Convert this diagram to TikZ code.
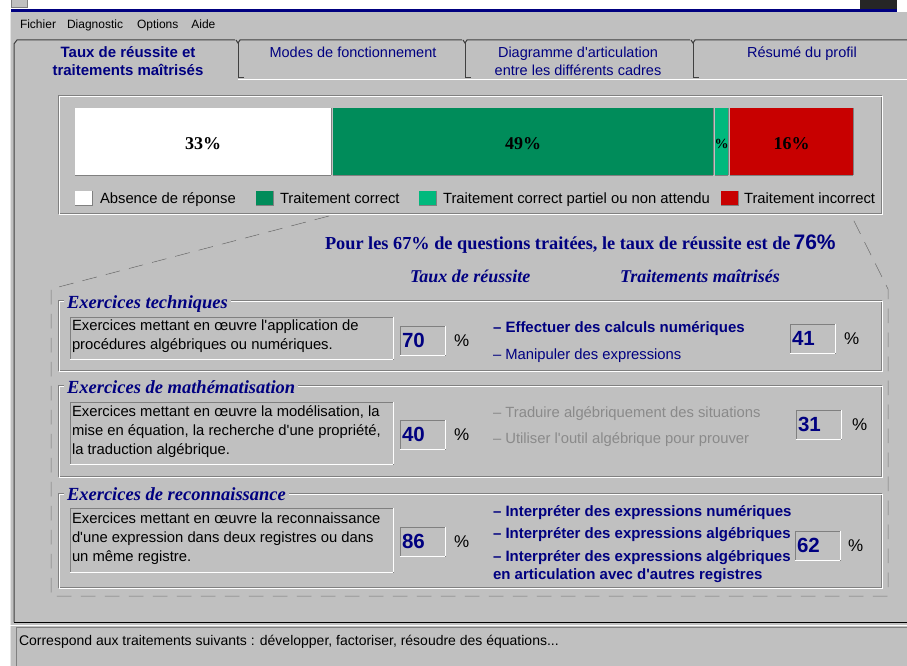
\documentclass[tikz,border=0pt]{standalone}
\usepackage{fontspec}
\setmainfont{Liberation Serif}
\setsansfont{Liberation Sans}[Ligatures=TeXOff]
\usetikzlibrary{positioning,calc}
\tikzset{
  every picture/.append style={line width=1pt},
  every node/.append style={inner sep=0pt, outer sep=0pt},
}
\tikzset{
  uitext/.style={anchor=west, text height=10.6pt, text depth=0pt, font=\sffamily\fontsize{14.8}{19}\selectfont},
  menuitem/.style={anchor=west, text height=8.6pt, text depth=0pt, font=\sffamily\fontsize{12}{14}\selectfont},
  tablabel/.style={align=center, text=winnavy, font=\sffamily\fontsize{14.5}{18}\selectfont},
  tabsingle/.style={tablabel, text height=10.4pt, text depth=0pt},
  barlabel/.style={text height=12.2pt, text depth=0pt, yshift=-2pt, font=\rmfamily\bfseries\fontsize{18}{20}\selectfont},
  raised/.style={append after command={
      (\tikzlastnode.north east) edge[draw=windark] (\tikzlastnode.south east)
      (\tikzlastnode.south west) edge[draw=windark] (\tikzlastnode.south east)}},
  sunken/.style={draw=windark, append after command={
      (\tikzlastnode.south west) edge[draw=white] (\tikzlastnode.south east)
      (\tikzlastnode.south east) edge[draw=white] (\tikzlastnode.north east)}},
  etched/.style={draw=windark, anchor=north west, append after command={
      ([shift={(1pt,-1pt)}]\tikzlastnode.north west) edge[draw=white, to path={rectangle (\tikztotarget)}] ([shift={(1pt,-1pt)}]\tikzlastnode.south east)}},
  segment/.style={raised, anchor=north west, minimum height=67pt},
  legendsq/.style={raised, anchor=west, minimum width=17pt, minimum height=15pt},
  grouptitle/.style={anchor=west, fill=wingray, inner xsep=3pt, text height=12.2pt, text depth=0pt, text=winnavy, font=\rmfamily\bfseries\itshape\fontsize{18.5}{20}\selectfont},
  colhead/.style={anchor=west, text height=11.9pt, text depth=0pt, text=winnavy, font=\rmfamily\bfseries\itshape\fontsize{18}{20}\selectfont},
  descbox/.style={sunken, anchor=north west, minimum width=323pt},
  desctext/.style={anchor=west, align=left, font=\sffamily\fontsize{14.8}{18.7}\selectfont},
  valbox/.style={sunken, anchor=north west, minimum width=45pt, minimum height=29pt, text width=41pt, inner xsep=2pt, align=left, text height=14.7pt, text depth=0pt, text=winnavy, font=\sffamily\bfseries\fontsize{20.5}{22}\selectfont},
  pct/.style={anchor=west, text height=12.2pt, text depth=0pt, font=\sffamily\fontsize{17}{20}\selectfont},
  skill/.style={uitext, text=winnavy},
  skillbold/.style={skill, text height=10.7pt, font=\sffamily\bfseries\fontsize{15}{19}\selectfont},
  skillwrap/.style={anchor=west, align=left, text=winnavy, font=\sffamily\bfseries\fontsize{15}{18}\selectfont},
  skilloff/.style={uitext, text=wintextoff},
  zoomline/.style={draw=windark, dash pattern=on 15pt off 9pt},
  zoomlight/.style={draw=white, dash pattern=on 15pt off 9pt, shift={(1pt,-1pt)}},
}

\begin{document}
\begin{tikzpicture}[x=1pt, y=-1pt]
% Color definitions
\definecolor{wingray}{RGB}{192,192,192}
\definecolor{windark}{RGB}{128,128,128}
\definecolor{winnavy}{RGB}{0,0,128}
\definecolor{wintextoff}{RGB}{138,138,138}
\definecolor{okgreen}{RGB}{0,140,90}
\definecolor{partteal}{RGB}{0,185,125}
\definecolor{badred}{RGB}{200,0,0}

\useasboundingbox (0,0) rectangle (907,666);

% Window frame
\fill[white] (0,0) rectangle (907,666);
\fill[wingray] (10,12) rectangle (907,666);
\draw[windark, fill=wingray] (11,-1) rectangle (27,8);
\fill[black!85] (860,0) rectangle (897,9);
\fill[winnavy] (11,9) rectangle (897,12);
\draw[black!10] (10.5,12) -- (10.5,666);

% Menu bar
\node[menuitem] (mfile) at (20,24) {Fichier};
\node[menuitem, right=11pt of mfile] (mdiag) {Diagnostic};
\node[menuitem, right=14pt of mdiag] (mopt) {Options};
\node[menuitem, right=13pt of mopt] (maide) {Aide};

% Tabs
\draw[black!75] (14,622) -- (14,44) -- (17,40) -- (235,40);
\draw[black!75] (236,40) -- (238,43) -- (240,40) -- (462,40);
\draw[black!75] (463,40) -- (465,43) -- (467,40) -- (690,40);
\draw[black!75] (691,40) -- (693,43) -- (695,40) -- (907,40);
\draw[black!75] (238,43) -- (238,78) -- (244,78);
\draw[black!75] (465,43) -- (465,78) -- (471,78);
\draw[black!75] (693,43) -- (693,78) -- (699,78);
\draw[white] (238,80) -- (907,80);
\node[tablabel, font=\sffamily\bfseries\fontsize{15}{18}\selectfont] (tabrate) at (128,61) {Taux de réussite et\\traitements maîtrisés};
\node[tabsingle] (tabmodes) at (353,52) {Modes de fonctionnement};
\node[tablabel] (tabdiag) at (578,61) {Diagramme d'articulation\\entre les différents cadres};
\node[tabsingle] (tabprofil) at (802,52) {Résumé du profil};

% Answer distribution
\node[etched, minimum width=823pt, minimum height=117pt] (distbox) at (58,96) {};
\node[segment, fill=white, minimum width=256pt] (segnone) at (75,108) {};
\node[segment, fill=okgreen, minimum width=380pt, right=2pt of segnone] (segok) {};
\node[segment, fill=partteal, minimum width=13pt, right=2pt of segok] (segpart) {};
\node[segment, fill=badred, minimum width=123pt, right=2pt of segpart] (segbad) {};
\node[barlabel] (lblnone) at (segnone) {33\%};
\node[barlabel] (lblok) at (segok) {49\%};
\begin{scope}
  \clip (segpart.north west) rectangle (segpart.south east);
  \node[barlabel, text height=9pt, font=\rmfamily\bfseries\fontsize{14}{15}\selectfont] (lblpart) at (segpart) {\%};
\end{scope}
\node[barlabel] (lblbad) at (segbad) {16\%};

% Legend
\node[legendsq, fill=white] (keynone) at (75,198) {};
\node[uitext, right=8pt of keynone] (txtnone) {Absence de réponse};
\node[legendsq, fill=okgreen] (keyok) at (256,198) {};
\node[uitext, right=7pt of keyok] (txtok) {Traitement correct};
\node[legendsq, fill=partteal] (keypart) at (419,198) {};
\node[uitext, right=7pt of keypart] (txtpart) {Traitement correct partiel ou non attendu};
\node[legendsq, fill=badred] (keybad) at (721,198) {};
\node[uitext, right=6pt of keybad] (txtbad) {Traitement incorrect};

% Zoom outline from the treated answers
\coordinate (zoomtl) at (329,216);
\coordinate (zoomleft) at (51,289);
\coordinate (zoombl) at (51,596);
\coordinate (zoombr) at (888,596);
\coordinate (zoomright) at (888,289);
\coordinate (zoomtr) at (853,219);
\draw[zoomlight] (zoomtl) -- (zoomleft) -- (zoombl) -- (zoombr) -- (zoomright) -- (zoomtr);
\draw[zoomline] (zoomtl) -- (zoomleft) -- (zoombl) -- (zoombr) -- (zoomright) -- (zoomtr);

% Headline and column heads
\node[anchor=west, text height=12.1pt, text depth=0pt, text=winnavy, font=\rmfamily\bfseries\fontsize{18.3}{20}\selectfont] (headline) at (325,243) {Pour les 67\% de questions traitées, le taux de réussite est de};
\node[anchor=base west, text=winnavy, font=\sffamily\bfseries\fontsize{21}{24}\selectfont] (headrate) at ([xshift=3pt]headline.base east) {76\%};
\node[colhead] (hdrrate) at (410,277) {Taux de réussite};
\node[colhead] (hdrskill) at (620,277) {Traitements maîtrisés};

% Exercise groups
\node[etched, minimum width=823pt, minimum height=70pt] (grptech) at (58,300) {};
\node[etched, minimum width=823pt, minimum height=91pt] (grpmath) at (58,385) {};
\node[etched, minimum width=823pt, minimum height=94pt] (grprec) at (58,493) {};
\node[grouptitle] (ttltech) at (64,302) {Exercices techniques};
\node[grouptitle] (ttlmath) at (64,387) {Exercices de mathématisation};
\node[grouptitle] (ttlrec) at (64,494) {Exercices de reconnaissance};

% Technical exercises
\node[descbox, minimum height=42pt] (desctech) at (70,317) {};
\node[desctext] (txttech) at ([xshift=2pt,yshift=1.5pt]desctech.west) {Exercices mettant en œuvre l'application de\\procédures algébriques ou numériques.};
\node[valbox] (valtech) at (400,326) {70};
\node[pct, right=9pt of valtech] (pcttech) {\%};
\node[skillbold] (skcalc) at (493,327) {– Effectuer des calculs numériques};
\node[skill] (skmanip) at (493,354) {– Manipuler des expressions};
\node[valbox] (valtechsk) at (790,324) {41};
\node[pct, right=9pt of valtechsk] (pcttechsk) {\%};

% Mathematisation exercises
\node[descbox, minimum height=62pt] (descmath) at (70,402) {};
\node[desctext] (txtmath) at ([xshift=2pt,yshift=1.5pt]descmath.west) {Exercices mettant en œuvre la modélisation, la\\mise en équation, la recherche d'une propriété,\\la traduction algébrique.};
\node[valbox] (valmath) at (400,420) {40};
\node[pct, right=9pt of valmath] (pctmath) {\%};
\node[skilloff] (sktrad) at (493,412) {– Traduire algébriquement des situations};
\node[skilloff] (skprouv) at (493,438) {– Utiliser l'outil algébrique pour prouver};
\node[valbox] (valmathsk) at (796,410) {31};
\node[pct, right=11pt of valmathsk] (pctmathsk) {\%};

% Recognition exercises
\node[descbox, minimum height=64pt] (descrec) at (70,508) {};
\node[desctext] (txtrec) at ([xshift=2pt,yshift=1.5pt]descrec.west) {Exercices mettant en œuvre la reconnaissance\\d'une expression dans deux registres ou dans\\un même registre.};
\node[valbox] (valrec) at (400,527) {86};
\node[pct, right=9pt of valrec] (pctrec) {\%};
\node[skillbold] (sknum) at (493,511) {– Interpréter des expressions numériques};
\node[skillbold] (skalg) at (493,533) {– Interpréter des expressions algébriques};
\node[skillwrap] (skart) at (493,567) {– Interpréter des expressions algébriques\\en articulation avec d'autres registres};
\node[valbox] (valrecsk) at (795,531) {62};
\node[pct, right=8pt of valrecsk] (pctrecsk) {\%};

% Status bar
\draw[black, line width=1.5pt] (14,622.5) -- (907,622.5);
\draw[white] (10,625.5) -- (907,625.5);
\node[sunken, anchor=north west, minimum width=895pt, minimum height=40pt] (statusbox) at (16,627) {};
\node[anchor=west, text height=10pt, text depth=0pt, font=\sffamily\fontsize{14}{16}\selectfont] (statustext) at (19,640) {Correspond aux traitements suivants : développer, factoriser, résoudre des équations...};
\end{tikzpicture}
\end{document}
